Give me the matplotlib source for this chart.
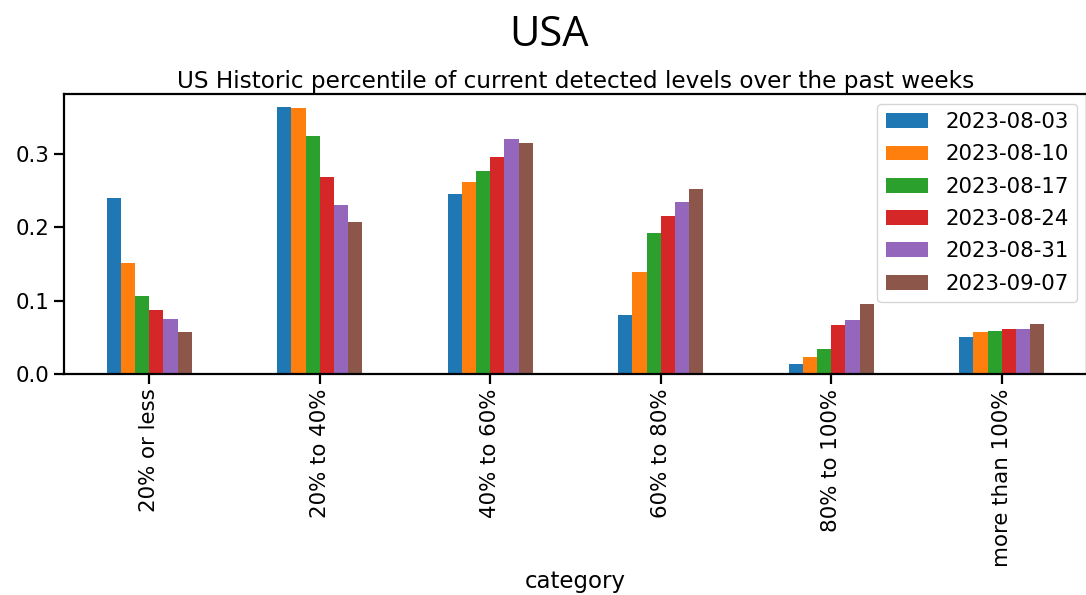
import matplotlib
matplotlib.use("Agg")
import matplotlib.pyplot as plt
import numpy as np
import pandas as pd

categories = ["20% or less", "20% to 40%", "40% to 60%", "60% to 80%", "80% to 100%", "more than 100%"]
weeks = ["2023-08-03", "2023-08-10", "2023-08-17", "2023-08-24", "2023-08-31", "2023-09-07"]

w_0803 = [0.240, 0.364, 0.246, 0.080, 0.014, 0.050]
w_0810 = [0.151, 0.363, 0.262, 0.139, 0.023, 0.057]
w_0817 = [0.106, 0.325, 0.277, 0.193, 0.034, 0.059]
w_0824 = [0.087, 0.269, 0.296, 0.216, 0.067, 0.061]
w_0831 = [0.075, 0.231, 0.321, 0.235, 0.074, 0.061]
w_0907 = [0.058, 0.208, 0.315, 0.252, 0.095, 0.068]

df = pd.DataFrame(
    {w: v for w, v in zip(weeks, [w_0803, w_0810, w_0817, w_0824, w_0831, w_0907])},
    index=pd.Index(categories, name="category"),
)

plt.rcParams["font.family"] = ["DejaVu Sans"]
plt.rcParams["axes.linewidth"] = 1.6
plt.rcParams["xtick.major.width"] = 1.6
plt.rcParams["ytick.major.width"] = 1.6
plt.rcParams["xtick.major.size"] = 7
plt.rcParams["ytick.major.size"] = 7

W, H = 1086, 595
fig = plt.figure(figsize=(W / 100, H / 100), dpi=100)
ax = fig.add_axes([64 / W, 1 - 374 / H, (1087 - 64) / W, (374 - 94) / H])

df.plot(kind="bar", ax=ax, legend=False)

ax.set_title("US Historic percentile of current detected levels over the past weeks",
             fontsize=16.7, pad=4)
ax.set_xlabel("category", fontsize=16.5, labelpad=2)
ax.tick_params(axis="both", labelsize=15.4)
ax.set_yticks([0.0, 0.1, 0.2, 0.3])
ax.legend(loc="upper right", fontsize=15.3, frameon=True, labelspacing=0.58,
          borderaxespad=0.45)

fig.text(0.506, 0.942, "USA", ha="center", va="center",
         fontsize=30, family=["Open Sans", "DejaVu Sans"])

fig.savefig("out.png", dpi=100)
